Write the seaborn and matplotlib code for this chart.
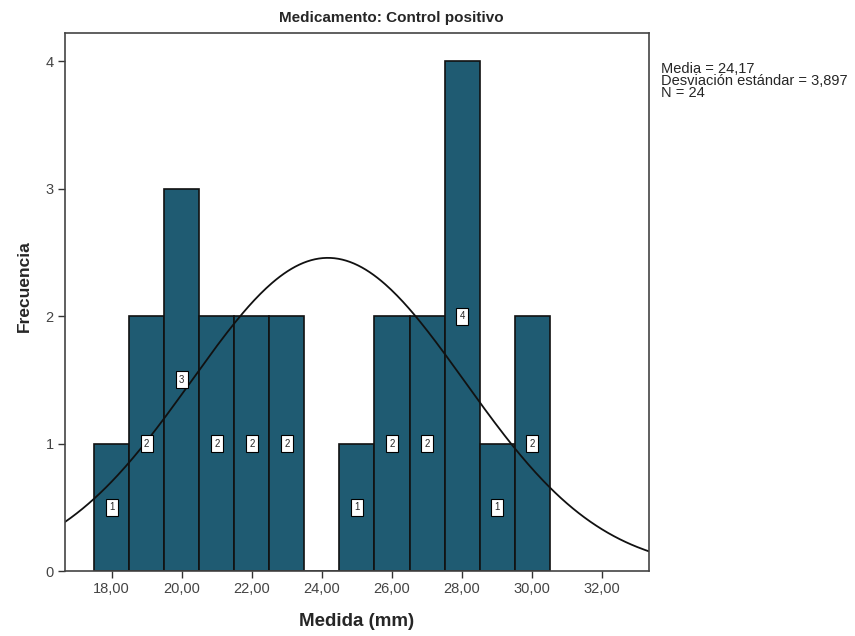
import numpy as np
import pandas as pd
import matplotlib.pyplot as plt
import seaborn as sns

centers = [18, 19, 20, 21, 22, 23, 24, 25, 26, 27, 28, 29, 30]
counts = [1, 2, 3, 2, 2, 2, 0, 1, 2, 2, 4, 1, 2]
media = 24.17
desv = 3.897
n = 24
xticks = [18, 20, 22, 24, 26, 28, 30, 32]
yticks = [0, 1, 2, 3, 4]

sns.set_style("white")
plt.rcParams["font.family"] = ["Liberation Sans", "DejaVu Sans"]

df = pd.DataFrame({"medida": centers, "frecuencia": counts})

fig = plt.figure(figsize=(8.55, 6.36), dpi=100)
ax = fig.add_axes([0.076, 0.102, 0.683, 0.846])

sns.histplot(data=df, x="medida", weights="frecuencia", binwidth=1, binrange=(17.5, 30.5),
             color="#1f5b72", alpha=1, edgecolor="#111111", linewidth=1.2, ax=ax)

# curva normal
xlo, xhi = 16.67, 33.33
xs = np.linspace(xlo, xhi, 300)
ys = n * 1.0 / (desv * np.sqrt(2 * np.pi)) * np.exp(-0.5 * ((xs - media) / desv) ** 2)
sns.lineplot(x=xs, y=ys, color="#111111", linewidth=1.3, ax=ax)

for c, v in zip(centers, counts):
    if v > 0:
        ax.text(c, v / 2, str(v), ha="center", va="center", fontsize=7,
                bbox=dict(boxstyle="square,pad=0.35", fc="white", ec="black", lw=0.8))

ax.set_xlim(xlo, xhi)
ax.set_ylim(0, 4.22)
ax.set_xticks(xticks)
ax.set_xticklabels([f"{t:.2f}".replace(".", ",") for t in xticks], fontsize=10.5, color="#444444")
ax.set_yticks(yticks)
ax.set_yticklabels([str(t) for t in yticks], fontsize=10.5, color="#444444")
ax.tick_params(axis="both", direction="out", length=5, width=1, color="#333333",
               bottom=True, left=True, pad=3)
for s in ax.spines.values():
    s.set_color("#444444")
    s.set_linewidth(1.2)

ax.set_xlabel("Medida (mm)", fontsize=13.5, fontweight="bold")
ax.set_ylabel("Frecuencia", fontsize=12.5, fontweight="bold")
ax.xaxis.set_label_coords(0.5, -0.078)
ax.yaxis.set_label_coords(-0.056, 0.53)

fig.text(0.458, 0.972, "Medicamento: Control positivo", ha="center", va="center",
         fontsize=11, fontweight="bold")

fig.text(0.773, 0.903, f"Media = 24,17\nDesviación estándar = 3,897\nN = {n}",
         fontsize=10.5, va="top", ha="left", linespacing=0.82)

fig.savefig("out.png", dpi=100)
